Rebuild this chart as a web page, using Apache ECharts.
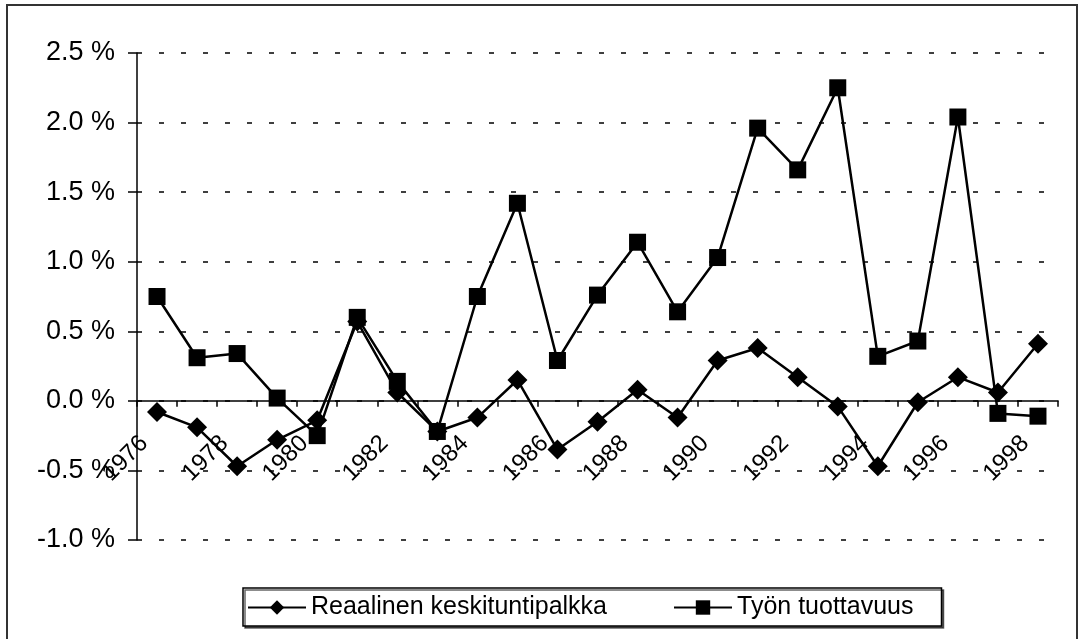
<!DOCTYPE html>
<html>
<head>
<meta charset="utf-8">
<script src="https://cdn.jsdelivr.net/npm/echarts@6/dist/echarts.min.js"></script>
<style>
html,body{margin:0;padding:0;background:#fff;}
#c{width:1082px;height:639px;}
</style>
</head>
<body>
<div id="c"></div>
<script>
const years = ['1976','1977','1978','1979','1980','1981','1982','1983','1984','1985','1986','1987','1988','1989','1990','1991','1992','1993','1994','1995','1996','1997','1998'];
const wageName = 'Reaalinen keskituntipalkka';
const prodName = 'Työn tuottavuus';
const wage = [-0.08,-0.19,-0.47,-0.28,-0.14,0.57,0.06,-0.22,-0.12,0.15,-0.35,-0.15,0.08,-0.12,0.29,0.38,0.17,-0.04,-0.47,-0.01,0.17,0.06,0.41];
const prod = [0.75,0.31,0.34,0.02,-0.25,0.60,0.14,-0.22,0.75,1.42,0.29,0.76,1.14,0.64,1.03,1.96,1.66,2.25,0.32,0.43,2.04,-0.09,-0.11];
const yMin = -1.0, yMax = 2.5, yStep = 0.5;

const W = 1082, H = 639;
const gridTop = 53, gridBottom = 99;
const plotH = H - gridTop - gridBottom;
const zeroOffset = -plotH * (0 - yMin) / (yMax - yMin);

const chart = echarts.init(document.getElementById('c'), null, {renderer:'canvas'});
const font = 'Liberation Sans, Arial, sans-serif';
chart.setOption({
  animation:false,
  backgroundColor:'#fff',
  graphic:[{type:'rect', shape:{x:7,y:5,width:1070,height:660}, style:{fill:'none', stroke:'#333', lineWidth:2}, z:-1}],
  grid:{left:137,right:24,top:gridTop,bottom:gridBottom,containLabel:false},
  legend:{
    left:243, top:588,
    padding:[7,28,6,4],
    itemGap:66,
    itemWidth:58, itemHeight:18,
    borderColor:'#000', borderWidth:1.5,
    shadowColor:'rgba(0,0,0,0.6)', shadowOffsetX:2, shadowOffsetY:2, shadowBlur:0,
    backgroundColor:'#fff',
    textStyle:{fontFamily:font,fontSize:25,color:'#000'},
    data:[wageName, prodName]
  },
  xAxis:{
    type:'category', data:years, boundaryGap:true,
    offset: zeroOffset,
    axisLine:{onZero:false, lineStyle:{color:'#000',width:1.5}},
    axisTick:{show:true, interval:0, length:6, lineStyle:{color:'#000',width:1.5}},
    axisLabel:{interval:1, rotate:45, margin:26, padding:[0,18,0,0], fontFamily:font, fontSize:24, color:'#000'},
    splitLine:{show:false}
  },
  yAxis:{
    type:'value', min:yMin, max:yMax, interval:yStep,
    axisLine:{show:true, lineStyle:{color:'#000',width:1.5}},
    axisTick:{show:true, length:9, lineStyle:{color:'#000',width:1.5}},
    axisLabel:{margin:22, fontFamily:font, fontSize:27, color:'#000', formatter:v=>v.toFixed(1)+' %'},
    splitLine:{show:true, lineStyle:{color:'#000', width:1.5, type:[5,17]}}
  },
  series:[
    {name:wageName, type:'line', data:wage, symbol:'diamond', symbolSize:20,
     lineStyle:{color:'#000',width:2.5}, itemStyle:{color:'#000'}, z:3},
    {name:prodName, type:'line', data:prod, symbol:'rect', symbolSize:17,
     lineStyle:{color:'#000',width:2.5}, itemStyle:{color:'#000'}, z:2}
  ]
});
</script>
</body>
</html>
